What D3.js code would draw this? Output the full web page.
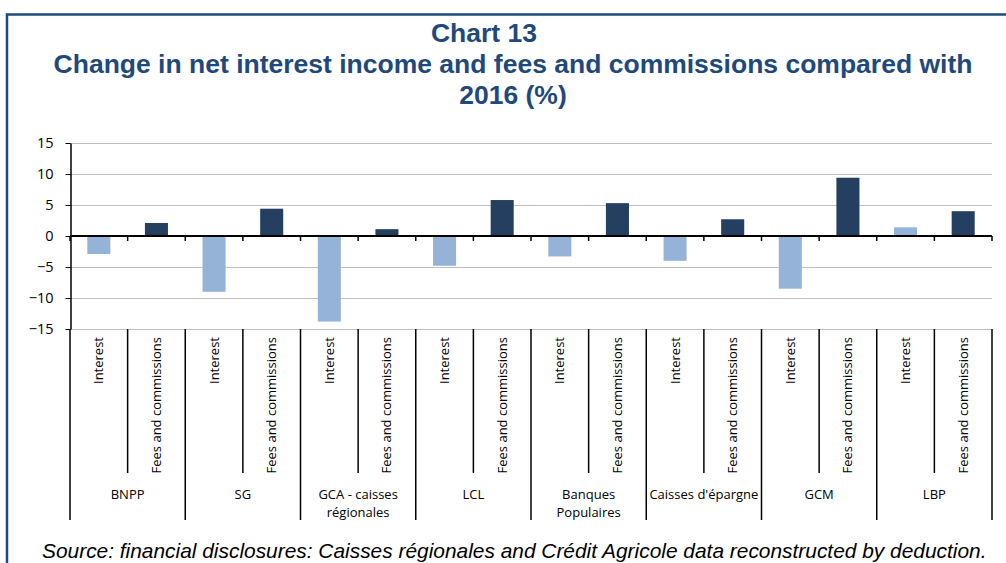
<!DOCTYPE html>
<html>
<head>
<meta charset="utf-8">
<script src="https://cdn.jsdelivr.net/npm/d3@7"></script>
<style>
  html, body { margin: 0; padding: 0; background: #fff; }
  svg { display: block; }
</style>
</head>
<body>
<svg id="chart" width="1006" height="563"></svg>
<script>
// ---- data ----
const groups = ["BNPP", "SG", "GCA - caisses\nrégionales", "LCL", "Banques\nPopulaires", "Caisses d'épargne", "GCM", "LBP"];
const subCategories = ["Interest", "Fees and commissions"];
const interestValues = [-2.9, -9.0, -13.8, -4.8, -3.3, -4.0, -8.5, 1.4];
const feesValues = [2.1, 4.4, 1.1, 5.8, 5.3, 2.7, 9.4, 4.0];
const yTicks = [-15, -10, -5, 0, 5, 10, 15];
const titleLines = ["Chart 13", "Change in net interest income and fees and commissions compared with", "2016 (%)"];
const sourceText = "Source: financial disclosures: Caisses régionales and Crédit Agricole data reconstructed by deduction.";

(function () {
// ---- build flat slot list ----
const slots = [];
groups.forEach((g, gi) => {
  slots.push({ key: gi + "-0", group: g, gi, sub: subCategories[0], value: interestValues[gi], type: 0 });
  slots.push({ key: gi + "-1", group: g, gi, sub: subCategories[1], value: feesValues[gi], type: 1 });
});

const svg = d3.select("#chart");
const colors = ["#95B3D7", "#243F60"];
const titleColor = "#1F497D";

// frame
svg.append("rect")
  .attr("x", 7).attr("y", 14.5)
  .attr("width", 1040).attr("height", 600)
  .attr("fill", "none").attr("stroke", titleColor).attr("stroke-width", 2.5);

// title
const titleX = [484, 513, 513];
const titleY = [42, 73, 104];
svg.append("g").selectAll("text").data(titleLines).join("text")
  .attr("x", (d, i) => titleX[i]).attr("y", (d, i) => titleY[i])
  .attr("text-anchor", "middle")
  .attr("font-family", "Liberation Sans, Arial, sans-serif")
  .attr("font-weight", "bold").attr("font-size", 26.5)
  .attr("fill", titleColor)
  .text(d => d);

// scales
const pLeft = 70, pRight = 992, pTop = 143, pBottom = 329;
const x = d3.scaleBand().domain(slots.map(d => d.key)).range([pLeft, pRight]).paddingInner(0.6).paddingOuter(0.3);
const xSlot = d3.scaleBand().domain(slots.map(d => d.key)).range([pLeft, pRight]).padding(0);
const y = d3.scaleLinear().domain([-15, 15]).range([pBottom, pTop]);

// gridlines
svg.append("g").selectAll("line").data(yTicks).join("line")
  .attr("x1", pLeft).attr("x2", pRight)
  .attr("y1", d => Math.round(y(d)) + 0.5).attr("y2", d => Math.round(y(d)) + 0.5)
  .attr("stroke", "#C0C0C0").attr("stroke-width", 1);

// bars
svg.append("g").selectAll("rect").data(slots).join("rect")
  .attr("x", d => x(d.key))
  .attr("width", x.bandwidth())
  .attr("y", d => y(Math.max(0, d.value)))
  .attr("height", d => Math.abs(y(d.value) - y(0)))
  .attr("fill", d => colors[d.type]);

// y axis
const yAxis = svg.append("g")
  .attr("transform", `translate(${pLeft + 0.5},0)`)
  .call(d3.axisLeft(y).tickValues(yTicks).tickSize(5).tickPadding(12).tickSizeOuter(0));
yAxis.select(".domain").attr("stroke", "#000").attr("stroke-width", 1.5);
yAxis.selectAll(".tick line").attr("stroke", "#000");
yAxis.selectAll(".tick text")
  .attr("font-family", "Open Sans, sans-serif").attr("font-size", 14.5).attr("fill", "#000");

// zero axis line with ticks at slot boundaries
const boundaries = slots.map(d => xSlot(d.key)).concat([pRight]);
svg.append("line")
  .attr("x1", pLeft).attr("x2", pRight)
  .attr("y1", y(0)).attr("y2", y(0))
  .attr("stroke", "#000").attr("stroke-width", 1.8);
svg.append("g").selectAll("line").data(boundaries).join("line")
  .attr("x1", d => d).attr("x2", d => d)
  .attr("y1", y(0)).attr("y2", y(0) + 5)
  .attr("stroke", "#000").attr("stroke-width", 1.5);

// category table lines
const subBottom = 473, groupBottom = 520;
svg.append("g").selectAll("line").data(boundaries).join("line")
  .attr("x1", d => d).attr("x2", d => d)
  .attr("y1", pBottom)
  .attr("y2", (d, i) => (i % 2 === 0 ? groupBottom : subBottom))
  .attr("stroke", "#000").attr("stroke-width", 1.5);

// sub labels (rotated)
svg.append("g").selectAll("text").data(slots).join("text")
  .attr("transform", d => `translate(${xSlot(d.key) + xSlot.bandwidth() / 2 + 4.5},337) rotate(-90)`)
  .attr("text-anchor", "end")
  .attr("font-family", "Open Sans, sans-serif").attr("font-size", 13)
  .attr("fill", "#000")
  .text(d => d.sub);

// group labels
const groupG = svg.append("g");
groups.forEach((g, gi) => {
  const cx = (xSlot(gi + "-0") + xSlot(gi + "-1") + xSlot.bandwidth()) / 2;
  const lines = g.split("\n");
  const t = groupG.append("text")
    .attr("x", cx).attr("y", 499)
    .attr("text-anchor", "middle")
    .attr("font-family", "Open Sans, sans-serif").attr("font-size", 13)
    .attr("fill", "#000");
  lines.forEach((ln, li) => {
    t.append("tspan").attr("x", cx).attr("y", 499 + li * 18).text(ln);
  });
});

// source
svg.append("text")
  .attr("x", 42).attr("y", 558)
  .attr("font-family", "Liberation Sans, Arial, sans-serif")
  .attr("font-style", "italic").attr("font-size", 20.9)
  .attr("fill", "#000")
  .text(sourceText);
})();
</script>
</body>
</html>
